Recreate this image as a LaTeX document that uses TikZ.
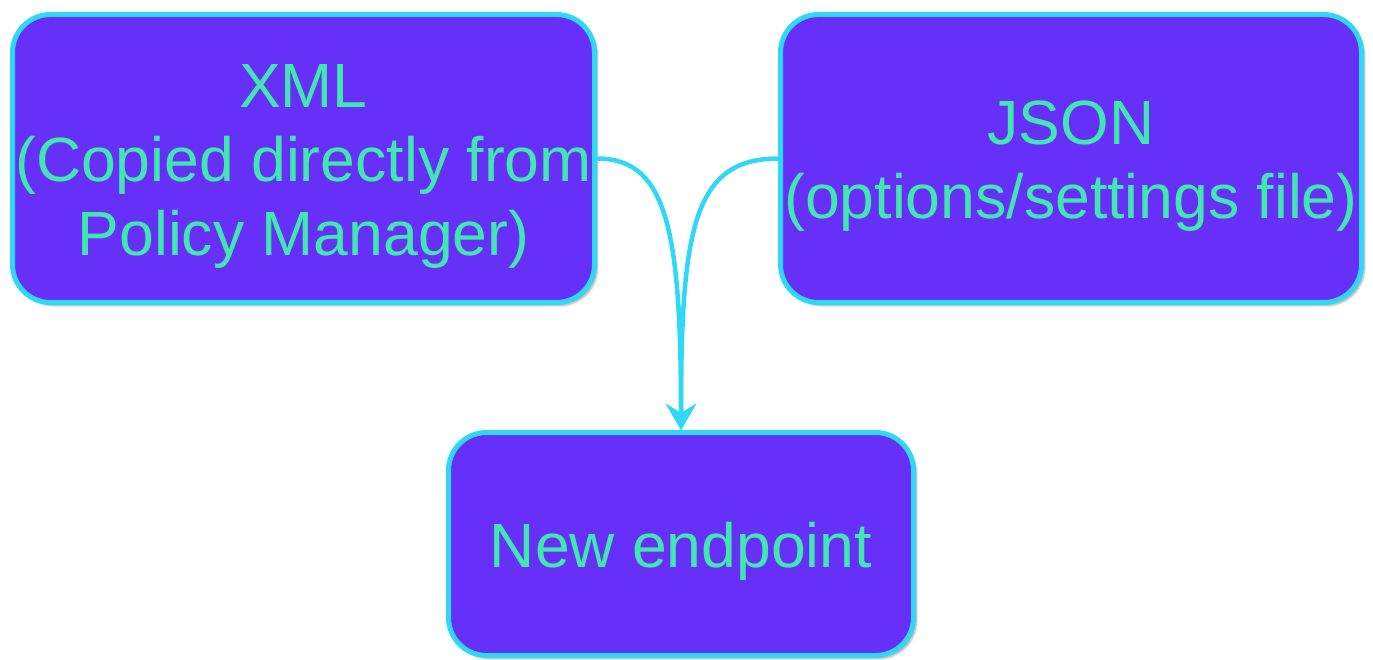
\documentclass[tikz,border=0pt]{standalone}
\usepackage{fontspec}
\setmainfont{Liberation Sans}
\usetikzlibrary{arrows.meta,shadows.blur}
\definecolor{boxfill}{HTML}{6630F8}
\definecolor{boxline}{HTML}{30D8F8}
\definecolor{boxtext}{HTML}{40E8B0}
\tikzset{
  card/.style={draw=boxline, line width=5pt, fill=boxfill, rounded corners=38pt,
    inner sep=0pt,
    blur shadow={shadow xshift=3pt, shadow yshift=-3pt, shadow blur steps=6, shadow opacity=35}},
  cardtext/.style={text=boxtext, align=center, inner sep=0pt,
    font=\fontsize{62.5}{74}\selectfont},
  link/.style={draw=boxline, line width=4.5pt,
    -{Stealth[length=26pt,width=30pt,inset=9pt]}}
}
\begin{document}
\begin{tikzpicture}[x=1pt,y=-1pt]
\useasboundingbox (0,0) rectangle (1373,660);
% boxes
\node[card, minimum width=582pt, minimum height=288pt] (xml) at (303.5,158.5) {};
\node[card, minimum width=581pt, minimum height=288pt] (json) at (1071,158.5) {};
\node[card, minimum width=465pt, minimum height=223pt] (ep) at (681,544) {};
% labels
\node[cardtext] (xmltext) at (303.5,166)
  {XML\\(Copied directly from\\Policy Manager)};
\node[cardtext] (jsontext) at (1071,166) {JSON\\(options/settings file)};
\node[cardtext] (eptext) at (681,551) {New endpoint};
% connectors
\draw[link] (xml.east) .. controls +(70,0) and +(0,-200) .. (ep.north);
\draw[link] (json.west) .. controls +(-85,0) and +(0,-200) .. (ep.north);
\end{tikzpicture}
\end{document}
